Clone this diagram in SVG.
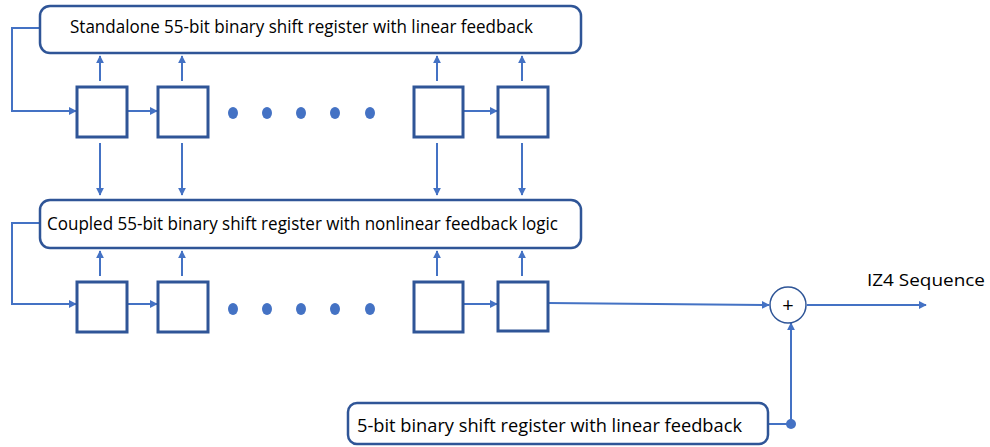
<svg xmlns="http://www.w3.org/2000/svg" width="990" height="447" viewBox="0 0 990 447">
<style>
.rbox{fill:#fff;stroke:#2F5597;stroke-width:2.5}
.cell{fill:#fff;stroke:#2F5597;stroke-width:3}
.ln{fill:none;stroke:#4472C4;stroke-width:2}
.ar{fill:none;stroke:#4472C4;stroke-width:2;marker-end:url(#ah)}
.dot{fill:#4472C4}
.t{font-family:"Open Sans","Liberation Sans",sans-serif;font-size:17.5px;fill:#000}
</style>
<defs>
<marker id="ah" viewBox="0 0 10 10" refX="9" refY="5" markerWidth="4" markerHeight="4" orient="auto" markerUnits="strokeWidth">
<path d="M0,0 L10,5 L0,10 z" fill="#4472C4"/>
</marker>
</defs>
<g id="connectors">
<polyline class="ar" points="40,28 12,28 12,111 76,111"/>
<line class="ar" x1="127" y1="111" x2="157" y2="111"/>
<line class="ar" x1="463" y1="111" x2="497" y2="111"/>
<line class="ar" x1="100" y1="81" x2="100" y2="56"/>
<line class="ar" x1="182" y1="81" x2="182" y2="56"/>
<line class="ar" x1="437" y1="81" x2="437" y2="56"/>
<line class="ar" x1="522" y1="81" x2="522" y2="56"/>
<line class="ar" x1="100" y1="143" x2="100" y2="195"/>
<line class="ar" x1="182" y1="143" x2="182" y2="195"/>
<line class="ar" x1="437" y1="143" x2="437" y2="195"/>
<line class="ar" x1="522" y1="143" x2="522" y2="195"/>
<polyline class="ar" points="40,223 12,223 12,304 76,304"/>
<line class="ar" x1="127" y1="304" x2="157" y2="304"/>
<line class="ar" x1="463" y1="304" x2="497" y2="304"/>
<line class="ar" x1="100" y1="276" x2="100" y2="251"/>
<line class="ar" x1="182" y1="276" x2="182" y2="251"/>
<line class="ar" x1="437" y1="276" x2="437" y2="251"/>
<line class="ar" x1="522" y1="276" x2="522" y2="251"/>
<line class="ar" x1="548" y1="303" x2="769" y2="305"/>
<line class="ar" x1="807" y1="305" x2="926" y2="305"/>
<line class="ln" x1="768" y1="424" x2="791" y2="424"/>
<line class="ar" x1="791" y1="424" x2="791" y2="323"/>
<circle class="dot" cx="791" cy="424" r="5"/>
</g>
<g id="top-register">
<rect class="rbox" x="40" y="6" width="541" height="47" rx="10"/>
<text class="t" x="70" y="33" textLength="463" lengthAdjust="spacingAndGlyphs">Standalone 55-bit binary shift register with linear feedback</text>
</g>
<g id="top-cells">
<rect class="cell" x="77" y="87" width="50" height="50"/>
<rect class="cell" x="158" y="87" width="50" height="50"/>
<rect class="cell" x="414" y="87" width="49" height="50"/>
<rect class="cell" x="498" y="87" width="50" height="50"/>
<ellipse class="dot" cx="233" cy="113" rx="5" ry="6"/>
<ellipse class="dot" cx="267" cy="113" rx="5" ry="6"/>
<ellipse class="dot" cx="301" cy="113" rx="5" ry="6"/>
<ellipse class="dot" cx="335" cy="113" rx="5" ry="6"/>
<ellipse class="dot" cx="370" cy="113" rx="5" ry="6"/>
</g>
<g id="coupled-register">
<rect class="rbox" x="40" y="200" width="541" height="48" rx="10"/>
<text class="t" x="47" y="230" textLength="511" lengthAdjust="spacingAndGlyphs">Coupled 55-bit binary shift register with nonlinear feedback logic</text>
</g>
<g id="coupled-cells">
<rect class="cell" x="77" y="282" width="50" height="50"/>
<rect class="cell" x="158" y="282" width="50" height="50"/>
<rect class="cell" x="414" y="282" width="49" height="50"/>
<rect class="cell" x="498" y="282" width="50" height="49"/>
<ellipse class="dot" cx="233" cy="309" rx="5" ry="6"/>
<ellipse class="dot" cx="267" cy="309" rx="5" ry="6"/>
<ellipse class="dot" cx="301" cy="309" rx="5" ry="6"/>
<ellipse class="dot" cx="335" cy="309" rx="5" ry="6"/>
<ellipse class="dot" cx="370" cy="309" rx="5" ry="6"/>
</g>
<g id="xor">
<circle cx="788" cy="305" r="18" fill="#fff" stroke="#2F5597" stroke-width="1.5"/>
<text class="t" x="788" y="312" text-anchor="middle" style="font-size:20px">+</text>
</g>
<g id="output-label">
<text class="t" x="867" y="286" style="font-size:17px" textLength="118" lengthAdjust="spacingAndGlyphs">IZ4 Sequence</text>
</g>
<g id="five-bit-register">
<rect class="rbox" x="348" y="403" width="420" height="41" rx="9"/>
<text class="t" x="357" y="432" textLength="385" lengthAdjust="spacingAndGlyphs">5-bit binary shift register with linear feedback</text>
</g>
</svg>
